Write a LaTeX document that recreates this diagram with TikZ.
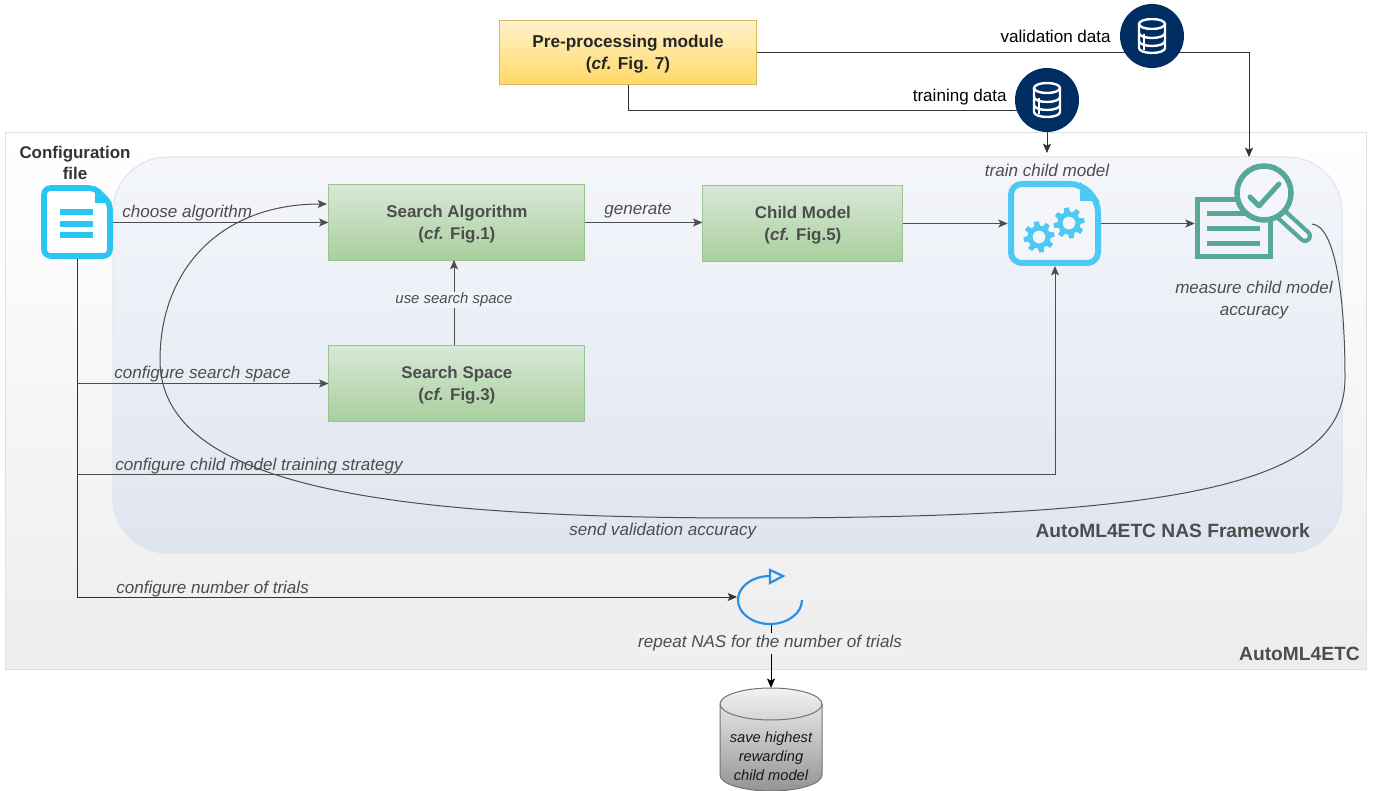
\documentclass[tikz,border=0pt]{standalone}
\usepackage{fontspec}
\setmainfont{Liberation Sans}
\usetikzlibrary{arrows.meta,shapes.geometric,calc}
\definecolor{ink}{HTML}{4D4D4D}
\definecolor{dark}{HTML}{333333}
\definecolor{navy}{HTML}{002D62}
\definecolor{sky}{HTML}{2BC5F4}
\definecolor{skyb}{HTML}{4DC9F2}
\definecolor{teal}{HTML}{57A89A}
\definecolor{loopc}{HTML}{2B8FE6}
\definecolor{panel}{HTML}{F4F6FB}
\definecolor{panelbot}{HTML}{DFE5EF}
\definecolor{paneledge}{HTML}{DDE3EE}
\definecolor{boxedge}{HTML}{9CC28E}
\definecolor{boxtop}{HTML}{D8E8D8}
\definecolor{boxbot}{HTML}{A9CF9C}
\definecolor{prepedge}{HTML}{D6B656}
\definecolor{preptop}{HTML}{FFF2CC}
\definecolor{prepbot}{HTML}{FFD966}
\newcommand{\topstrut}{\rule{0pt}{11.5pt}}
\tikzset{
 px/.style={line width=#1*0.75pt},
 link/.style={draw=ink,px=1,-{Stealth[length=7pt,width=6pt,inset=1.5pt]}},
 plainlink/.style={draw=ink,px=1},
 greenbox/.style={draw=boxedge,top color=boxtop,bottom color=boxbot,px=1,
   align=center,text=ink,font=\bfseries\fontsize{12.7}{16.5}\selectfont,inner sep=0pt,minimum height=56.5pt},
 edgetext/.style={font=\itshape\fontsize{12.8}{15}\selectfont,text=ink,inner sep=0pt},
 ghost/.style={inner sep=0pt,draw=none,fill=none},
 headtext/.style={font=\bfseries\fontsize{14.4}{16}\selectfont,text=ink,inner sep=0pt},
 datatext/.style={font=\fontsize{12.8}{15}\selectfont,text=black,inner sep=0pt},
 dbdisc/.style={circle,fill=navy,minimum size=48pt,inner sep=0pt},
}
\newcommand{\dbglyph}[1]{%
 \begin{scope}[shift={(#1)},draw=white,px=2.4]
  \draw (-13,-12) -- (-13,12) arc[start angle=180,end angle=0,x radius=13,y radius=5] -- (13,-12);
  \draw (0,-12) ellipse[x radius=13,y radius=5];
  \draw (-13,-3) arc[start angle=180,end angle=0,x radius=13,y radius=5];
  \draw (-13,5) arc[start angle=180,end angle=0,x radius=13,y radius=5];
  \draw (-8,-2) -- (-8,14);
 \end{scope}}
\newcommand{\gearglyph}[3]{%
 \begin{scope}[shift={(#1,#2)},scale=#3]
  \draw[skyb,px=5] (0,0) circle[radius=9];
  \foreach \a in {0,45,...,315}{
   \fill[skyb,rotate=\a+10] (-3.2,-9) -- (-2.4,-15.5) -- (2.4,-15.5) -- (3.2,-9) -- cycle;}
 \end{scope}}
\begin{document}
\begin{tikzpicture}[x=0.75pt,y=-0.75pt]
\useasboundingbox (0,0) rectangle (1379,791);
% panels
\shade[top color=white,bottom color=black!7,draw=black!12,px=1] (5,132.5) rectangle (1366,669);
\shade[top color=panel,bottom color=panelbot,draw=paneledge,px=1,rounded corners=41pt] (113,157) rectangle (1342,553);
% anchors for icons
\node[ghost,minimum width=54pt,minimum height=55.5pt] (config) at (77,222) {};
\node[ghost,minimum width=69.75pt,minimum height=63.75pt] (train) at (1054.5,223.5) {};
\node[ghost,minimum width=58.5pt,minimum height=46.5pt] (measure) at (1234,228) {};
\coordinate (measureout) at (1312,224);
\coordinate (loopleft) at (737,597);
\coordinate (loopbottom) at (771,624);
\coordinate (elbowD) at (77,597);
\coordinate (dbtrainc) at (1047,100);
\coordinate (dbtrainlow) at (1047,111);
\coordinate (measuretop) at (1249,157);
% boxes
\node[draw=prepedge,top color=preptop,bottom color=prepbot,px=1,minimum width=192.75pt,minimum height=48pt,align=center,inner sep=0pt,
  font=\bfseries\fontsize{12.9}{16}\selectfont,text=black!85] (prep) at (628,52.5) {\topstrut Pre-processing module\\(\textit{cf.} Fig. 7)};
\node[greenbox,minimum width=192pt] (algo) at (456.9,222.5) {\topstrut Search Algorithm\\(\textit{cf.} Fig.1)};
\node[greenbox,minimum width=150pt] (child) at (802.9,223.5) {\topstrut Child Model\\(\textit{cf.} Fig.5)};
\node[greenbox,minimum width=192pt] (space) at (456.9,383.5) {\topstrut Search Space\\(\textit{cf.} Fig.3)};
% cylinder
\begin{scope}
 \clip (700,680) rectangle (840,791);
 \path[top color=black!5,bottom color=black!42,draw=black!55,px=1] (720,704) -- (720,775) arc[start angle=180,end angle=0,x radius=51,y radius=16] -- (822,704) arc[start angle=0,end angle=-180,x radius=51,y radius=16] -- cycle;
 \draw[black!55,px=1] (720,704) arc[start angle=180,end angle=0,x radius=51,y radius=16];
\end{scope}
\node[ghost,minimum width=76.5pt,minimum height=77pt] (store) at (771,739.5) {};
\node[align=center,inner sep=0pt,font=\itshape\fontsize{11}{14.2}\selectfont,text=black!90] at (771,756.5) {save highest\\rewarding\\child model};
% connectors
\draw[plainlink,draw=dark] (prep.south) |- (dbtrainlow);
\draw[link,draw=dark] (prep.east) -| (measuretop);
\node[dbdisc] (dbtrain) at (dbtrainc) {};
\node[dbdisc] (dbval) at (1152,36) {};
\dbglyph{1047,100}
\dbglyph{1152,36}
\draw[link,draw=dark] (dbtrain.south) -- (1047,153);
\draw[link] (config.east|-algo) -- (algo.west);
\draw[link] (algo.east) -- (child.west|-algo);
\draw[link] (child.east) -- (train.west|-child);
\draw[link] (train.east) -- (measure.west|-train);
\draw[link] (space.north-|454,0) -- (454,260);
\draw[draw=dark,px=1] (config.south) -- (elbowD);
\draw[link] (config.south|-space.west) -- (space.west);
\draw[link] (77,475) -- (1055,475) -- (1055,266);
\draw[link,draw=dark] (elbowD) -- (loopleft);
\draw[link,draw=black] (loopbottom) -- (store.north);
\draw[link,px=1] (measureout) .. controls (1336,226) and (1345,300) .. (1345,378)
  .. controls (1345,480) and (1200,518) .. (750,518)
  .. controls (400,518) and (160,490) .. (160,360)
  .. controls (160,270) and (220,204) .. (327,204);
% config file icon
\begin{scope}[sky]
 \draw[px=5.6,fill=white,line join=round,rounded corners=5pt] (44,188) -- (95,188) -- (110,203) -- (110,256) -- (44,256) -- cycle;
 \fill (95,186) -- (112,203) -- (95,203) -- cycle;
 \fill (60,209) rectangle (93,215);
 \fill (60,221) rectangle (93,227);
 \fill (60,232) rectangle (93,238);
\end{scope}
% train icon
\begin{scope}[skyb]
 \draw[px=6,fill=panel,line join=round,rounded corners=8pt] (1011,184) -- (1081,184) -- (1098,201) -- (1098,263) -- (1011,263) -- cycle;
 \fill (1080,182) -- (1100,201) -- (1080,201) -- cycle;
\end{scope}
\gearglyph{1039}{237}{1}
\gearglyph{1069}{223}{1}
% measure icon
\begin{scope}[teal]
 \draw[px=5,fill=none] (1197.5,199.5) rectangle (1270.5,256.5);
 \fill (1207,211) rectangle (1260,216);
 \fill (1207,226) rectangle (1260,231);
 \fill (1207,241) rectangle (1260,246);
 \draw[px=14,line cap=round] (1282,215) -- (1305,236);
 \draw[panel,px=5.5,line cap=round] (1282,215) -- (1305,236);
 \filldraw[fill=panel,draw=teal,px=5.5] (1264,193) circle[radius=27];
 \draw[px=5,line cap=round,line join=round] (1250,197) -- (1259,206) -- (1279,184);
\end{scope}
% loop icon
\draw[loopc,px=2.2] (802,600) arc[start angle=0,end angle=275,x radius=32,y radius=24];
\filldraw[fill=black!6,draw=loopc,px=2.2] (770,570) -- (783,576) -- (770,583) -- cycle;
% labels
\node[font=\bfseries\fontsize{12.7}{15.5}\selectfont,text=dark,align=center,inner sep=0pt] at (75,163) {Configuration\\file};
\node[edgetext,anchor=west] at (122,213.5) {choose algorithm};
\node[edgetext] at (638,210.5) {generate};
\node[edgetext,font=\itshape\fontsize{11.2}{12}\selectfont,fill=panel!80!panelbot,inner xsep=1pt,inner ysep=1pt] at (454,300) {use search space};
\node[edgetext,anchor=west] at (114,374.5) {configure search space};
\node[edgetext,anchor=west] at (115,466.5) {configure child model training strategy};
\node[edgetext,anchor=west] at (569,531.5) {send validation accuracy};
\node[edgetext,anchor=west] at (116,589.5) {configure number of trials};
\node[edgetext,fill=black!6,inner xsep=1pt,inner ysep=2pt] at (770,643.5) {repeat NAS for the number of trials};
\node[edgetext] at (1047,170) {train child model};
\node[edgetext,align=center,font=\itshape\fontsize{12.8}{16.5}\selectfont] at (1254,300.5) {measure child model\\accuracy};
\node[headtext,anchor=east] at (1310,531) {AutoML4ETC NAS Framework};
\node[headtext,anchor=east] at (1360,653.5) {AutoML4ETC};
\node[datatext,anchor=east] at (1111,36) {validation data};
\node[datatext,anchor=east] at (1007,97) {training data};
\end{tikzpicture}
\end{document}
